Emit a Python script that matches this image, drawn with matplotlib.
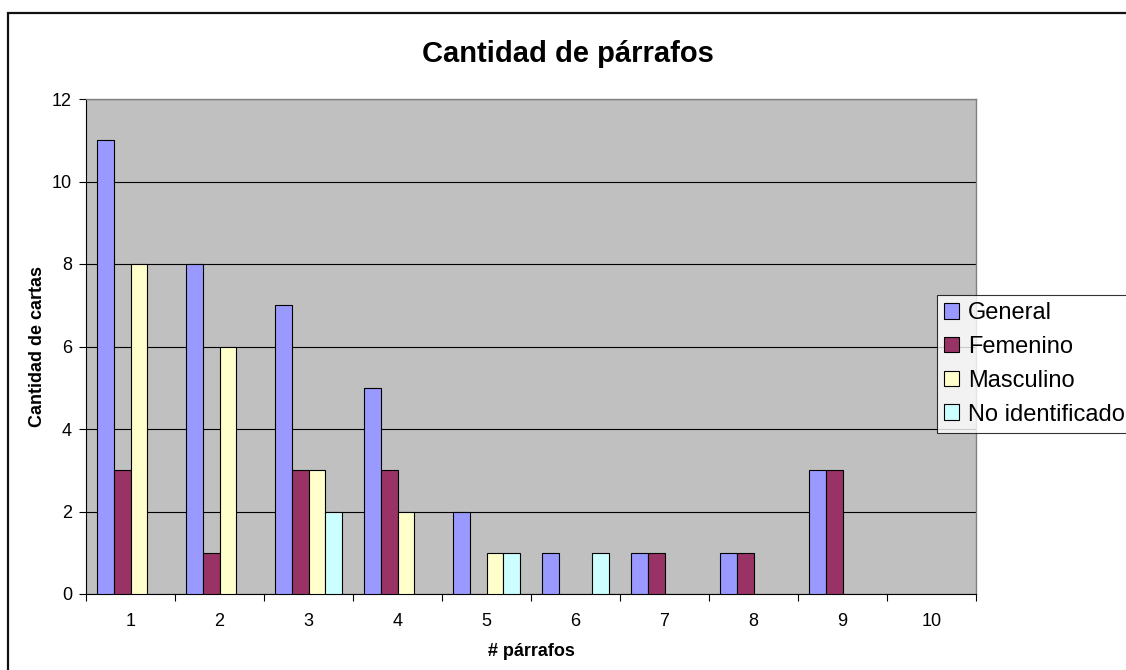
import matplotlib
matplotlib.use("Agg")
import matplotlib.pyplot as plt
import matplotlib.patches as mpatches
from matplotlib.ticker import FixedLocator, NullFormatter
import numpy as np

plt.rcParams["font.family"] = ["Liberation Sans", "DejaVu Sans"]

# Data
categories = ["1", "2", "3", "4", "5", "6", "7", "8", "9", "10"]
series_names = ["General", "Femenino", "Masculino", "No identificado"]
general = [11, 8, 7, 5, 2, 1, 1, 1, 3, 0]
femenino = [3, 1, 3, 3, 0, 0, 1, 1, 3, 0]
masculino = [8, 6, 3, 2, 1, 0, 0, 0, 0, 0]
no_ident = [0, 0, 2, 0, 1, 1, 0, 0, 0, 0]

COLORS = ["#9999FF", "#993366", "#FFFFCC", "#CCFFFF"]

W, H = 1126, 670
fig = plt.figure(figsize=(W / 100, H / 100), dpi=100)
fig.patch.set_facecolor("white")

# outer chart border (runs off the right/bottom edge)
fig.add_artist(mpatches.Rectangle((8 / W, -0.1), 1.2, 1 - 13 / H + 0.1,
                                  transform=fig.transFigure, fill=False,
                                  edgecolor="#111111", linewidth=1.6))

ax = fig.add_axes([86 / W, 1 - 594 / H, 890 / W, 495 / H])
ax.set_facecolor("#C0C0C0")

x = np.arange(1, len(categories) + 1)
w = 0.1875
all_series = [general, femenino, masculino, no_ident]
for k, (vals, col) in enumerate(zip(all_series, COLORS)):
    vals = np.array(vals, dtype=float)
    mask = vals > 0
    ax.bar(x[mask] + (k - 1.5) * w, vals[mask], width=w, color=col,
           edgecolor="black", linewidth=0.8, zorder=3)

ax.set_xlim(0.5, len(categories) + 0.5)
ax.set_ylim(0, 12)
ax.set_yticks(range(0, 13, 2))
ax.yaxis.grid(True, color="black", linewidth=0.8, zorder=1)
ax.set_axisbelow(True)

# category boundaries as major ticks, labels on minor ticks
ax.xaxis.set_major_locator(FixedLocator(np.arange(0.5, len(categories) + 1)))
ax.xaxis.set_major_formatter(NullFormatter())
ax.xaxis.set_minor_locator(FixedLocator(x))
ax.set_xticklabels(categories, minor=True)
ax.tick_params(axis="x", which="major", length=5, width=0.8, color="black")
ax.tick_params(axis="x", which="minor", length=0, pad=14, labelsize=13)
ax.tick_params(axis="y", length=5, width=0.8, labelsize=13, pad=5)

for side in ["top", "right"]:
    ax.spines[side].set_color("#808080")
    ax.spines[side].set_linewidth(1)
for side in ["left", "bottom"]:
    ax.spines[side].set_color("black")
    ax.spines[side].set_linewidth(0.8)

ax.set_xlabel("# párrafos", fontsize=13, fontweight="bold", labelpad=9)
ax.set_ylabel("Cantidad de cartas", fontsize=13, fontweight="bold", labelpad=4)
fig.text(568 / W, 1 - 54 / H, "Cantidad de párrafos", ha="center", va="center",
         fontsize=21, fontweight="bold")

handles = [mpatches.Patch(facecolor=c, edgecolor="black", linewidth=0.8, label=n)
           for c, n in zip(COLORS, series_names)]
leg = fig.legend(handles=handles, loc="upper left",
                 bbox_to_anchor=(937 / W, 1 - 295 / H), fontsize=17,
                 frameon=True, fancybox=False, borderpad=0.3,
                 handlelength=0.65, handleheight=0.65, handletextpad=0.35,
                 labelspacing=0.5, borderaxespad=0)
leg.get_frame().set_edgecolor("black")
leg.get_frame().set_linewidth(0.8)

fig.savefig("out.png", dpi=100)
